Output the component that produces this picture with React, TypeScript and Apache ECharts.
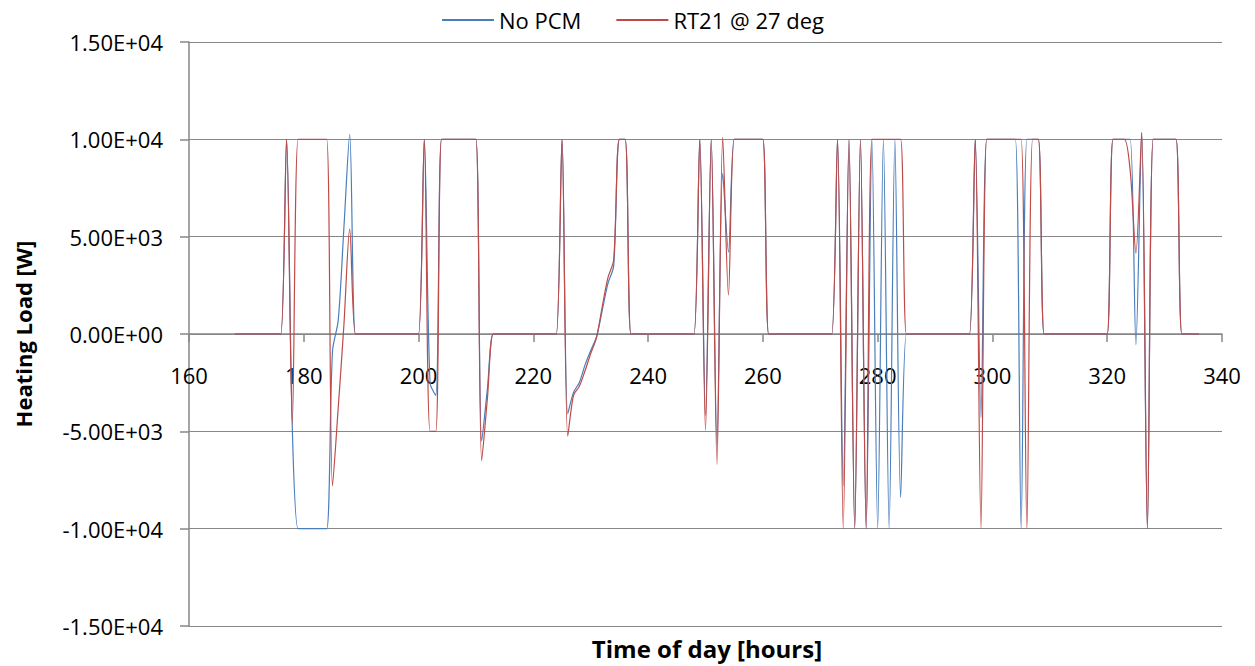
import React, { useEffect, useRef } from "react";
import * as echarts from "echarts";

// Hourly heating load, hours 168..336
const HOUR_START = 168;

const noPcm = [
  0, 0, 0, 0, 0, 0, 0, 0, 0, 10000,
  -4800, -10000, -10000, -10000, -10000, -10000, -10000, -900, 700, 5500,
  10250, 0, 0, 0, 0, 0, 0, 0, 0, 0,
  0, 0, 0, 10000, -2500, -3150, 10000, 10000, 10000, 10000,
  10000, 10000, 10000, -5500, -2800, 0, 0, 0, 0, 0,
  0, 0, 0, 0, 0, 0, 0, 10000, -4100, -3000,
  -2500, -1600, -850, -150, 1200, 2600, 3500, 10000, 10000, 0,
  0, 0, 0, 0, 0, 0, 0, 0, 0, 0,
  0, 10000, -4200, 10000, -5700, 8250, 4200, 10000, 10000, 10000,
  10000, 10000, 10000, 0, 0, 0, 0, 0, 0, 0,
  0, 0, 0, 0, 0, 10000, -7800, 10000, -10000, 10000,
  -10000, 10000, -10000, 10000, -10000, 10000, -8400, 0, 0, 0,
  0, 0, 0, 0, 0, 0, 0, 0, 0, 10000,
  -4300, 10000, 10000, 10000, 10000, 10000, 10000, -10000, 10000, 10000,
  10000, 0, 0, 0, 0, 0, 0, 0, 0, 0,
  0, 0, 0, 10000, 10000, 10000, 10000, -550, 10350, -10000,
  10000, 10000, 10000, 10000, 10000, 0, 0, 0, 0,
];

const rt21 = [
  0, 0, 0, 0, 0, 0, 0, 0, 0, 10000,
  -4600, 10000, 10000, 10000, 10000, 10000, 10000, -7800, -3800, 500,
  5400, 0, 0, 0, 0, 0, 0, 0, 0, 0,
  0, 0, 0, 10000, -5000, -5000, 10000, 10000, 10000, 10000,
  10000, 10000, 10000, -6500, -3300, 0, 0, 0, 0, 0,
  0, 0, 0, 0, 0, 0, 0, 10000, -5250, -3150,
  -2700, -1900, -1000, -200, 1400, 2900, 3800, 10000, 10000, 0,
  0, 0, 0, 0, 0, 0, 0, 0, 0, 0,
  0, 10000, -4950, 10000, -6700, 10100, 2000, 10000, 10000, 10000,
  10000, 10000, 10000, 0, 0, 0, 0, 0, 0, 0,
  0, 0, 0, 0, 0, 10000, -10000, 10000, -10000, 10000,
  -10000, 10000, 10000, 10000, 10000, 10000, 10000, 0, 0, 0,
  0, 0, 0, 0, 0, 0, 0, 0, 0, 10000,
  -10000, 10000, 10000, 10000, 10000, 10000, 10000, 10000, -10000, 10000,
  10000, 0, 0, 0, 0, 0, 0, 0, 0, 0,
  0, 0, 0, 10000, 10000, 10000, 8400, 4150, 10350, -10000,
  10000, 10000, 10000, 10000, 10000, 0, 0, 0, 0,
];

const seriesNames = ["No PCM", "RT21 @ 27 deg"];
const seriesColors = ["#4A7EBB", "#BE4B48"];

const FONT = "'Open Sans', 'Noto Sans', sans-serif";
const AXIS_GRAY = "#878787";

// Plot area
const GRID_TOP = 42;
const GRID_BOTTOM = 40;
const CHART_H = 666;
const PLOT_H = CHART_H - GRID_TOP - GRID_BOTTOM;

function sci(v: number): string {
  if (v === 0) return "0.00E+00";
  const e = Math.floor(Math.log10(Math.abs(v)) + 1e-9);
  const m = v / Math.pow(10, e);
  return m.toFixed(2) + "E" + (e < 0 ? "-" : "+") + String(Math.abs(e)).padStart(2, "0");
}

const toPairs = (vals: number[]) => vals.map((v, i) => [HOUR_START + i, v]);

export default function App() {
  const ref = useRef<HTMLDivElement>(null);

  useEffect(() => {
    if (!ref.current) return;
    const chart = echarts.init(ref.current, undefined, { renderer: "svg" });
    chart.setOption({
      animation: false,
      backgroundColor: "#ffffff",
      textStyle: { fontFamily: FONT },
      legend: {
        left: 441,
        top: 9,
        padding: 0,
        itemWidth: 52,
        itemHeight: 14,
        itemGap: 34,
        itemStyle: { opacity: 0 },
        textStyle: { fontFamily: FONT, fontSize: 22, color: "#000" },
        data: seriesNames,
      },
      grid: { left: 189, right: 33, top: GRID_TOP, bottom: GRID_BOTTOM, containLabel: false },
      xAxis: {
        type: "value",
        min: 160,
        max: 340,
        interval: 20,
        // the axis crosses the vertical axis at zero, the middle of the symmetric range
        offset: -PLOT_H / 2,
        axisLine: { onZero: false, lineStyle: { color: AXIS_GRAY, width: 1.5 } },
        axisTick: { show: true, length: 8, inside: false, lineStyle: { color: AXIS_GRAY, width: 1.5 } },
        axisLabel: { fontFamily: FONT, fontSize: 22, color: "#000", margin: 30 },
        splitLine: { show: false },
      },
      yAxis: {
        type: "value",
        min: -15000,
        max: 15000,
        interval: 5000,
        axisLine: { show: true, onZero: false, lineStyle: { color: AXIS_GRAY, width: 1.5 } },
        axisTick: { show: true, length: 9, lineStyle: { color: AXIS_GRAY, width: 1.5 } },
        axisLabel: { fontFamily: FONT, fontSize: 22, color: "#000", margin: 26, formatter: sci },
        splitLine: { show: true, lineStyle: { color: AXIS_GRAY, width: 1.2 } },
      },
      graphic: [
        {
          type: "text",
          x: 23,
          y: 334,
          rotation: Math.PI / 2,
          style: {
            text: "Heating Load [W]",
            fontFamily: FONT,
            fontSize: 22,
            fontWeight: "bold",
            fill: "#000",
            textAlign: "center",
            textVerticalAlign: "middle",
          },
        },
        {
          type: "text",
          x: 707,
          y: 648,
          style: {
            text: "Time of day [hours]",
            fontFamily: FONT,
            fontSize: 24,
            fontWeight: "bold",
            fill: "#000",
            textAlign: "center",
            textVerticalAlign: "middle",
          },
        },
      ],
      series: [
        {
          name: seriesNames[0],
          type: "line",
          data: toPairs(noPcm),
          showSymbol: false,
          symbol: "none",
          smooth: 0.3,
          color: seriesColors[0],
          lineStyle: { color: seriesColors[0], width: 1.2 },
        },
        {
          name: seriesNames[1],
          type: "line",
          data: toPairs(rt21),
          showSymbol: false,
          symbol: "none",
          smooth: 0.3,
          color: seriesColors[1],
          lineStyle: { color: seriesColors[1], width: 1.2 },
        },
      ],
    });
    return () => chart.dispose();
  }, []);

  return (
    <div
      ref={ref}
      style={{ position: "fixed", left: 0, top: 0, width: 1255, height: CHART_H, background: "#fff" }}
    />
  );
}
